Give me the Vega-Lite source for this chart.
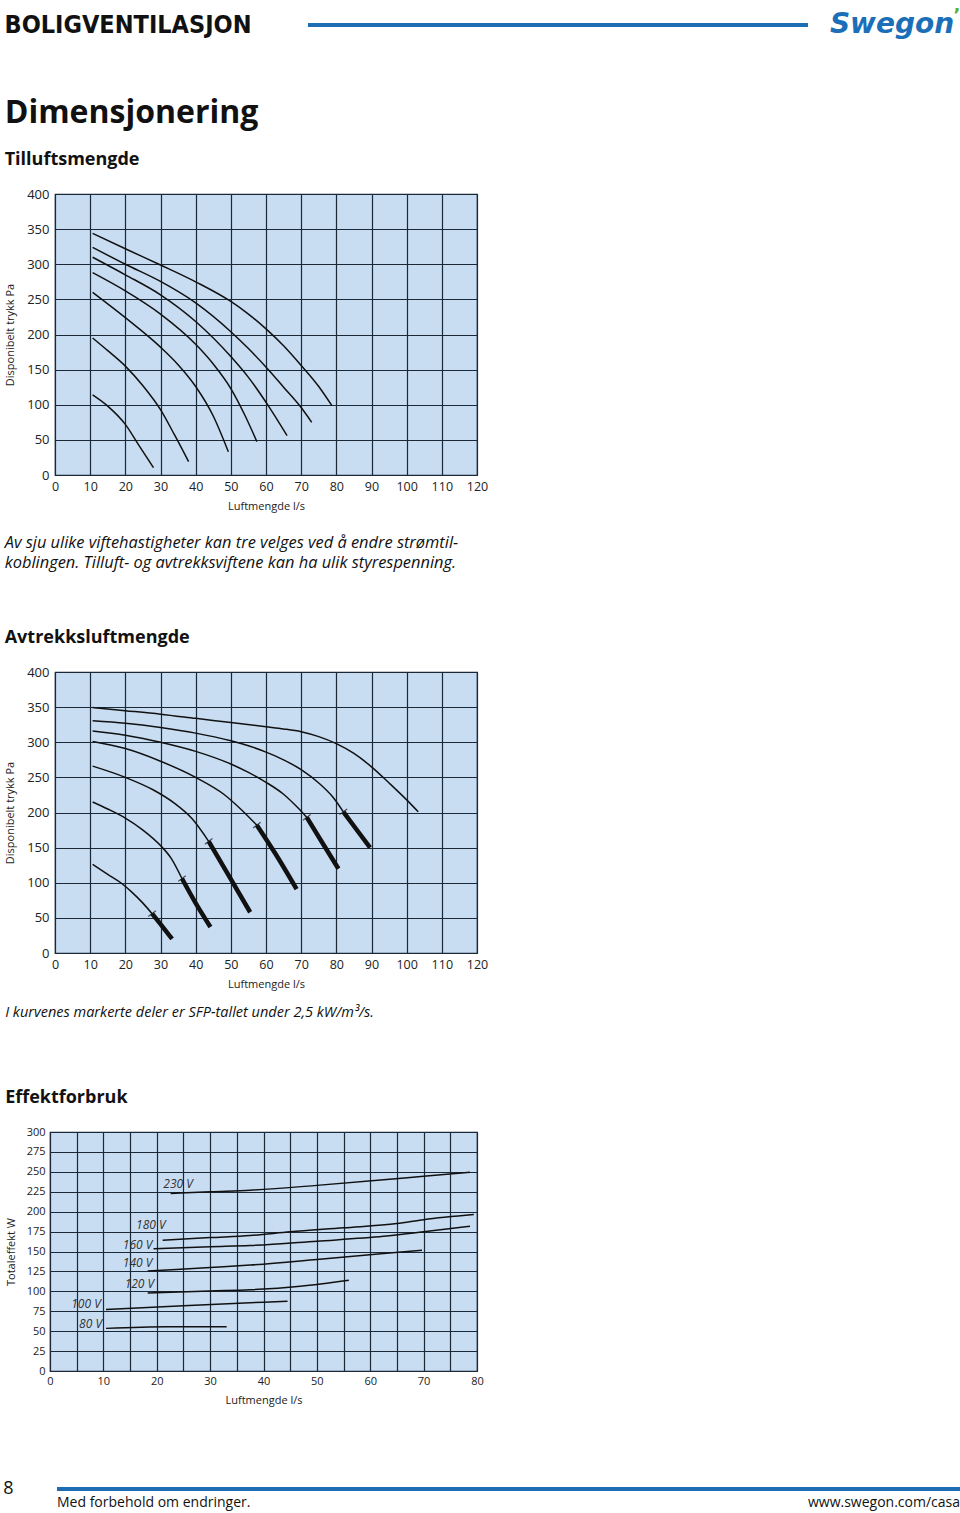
{
  "$schema": "https://vega.github.io/schema/vega-lite/v6.json",
  "background": "white",
  "padding": {"left": 3, "top": 5, "right": 0, "bottom": 0},
  "columns": 1,
  "align": "none",
  "spacing": 0,
  "config": {
    "font": "Open Sans",
    "view": {"stroke": null},
    "title": {"anchor": "start", "font": "Open Sans", "color": "#111", "subtitleFont": "Open Sans", "subtitleColor": "#111"},
    "axis": {"labelFont": "Open Sans", "titleFont": "Open Sans", "labelColor": "#222", "titleColor": "#222", "titleFontWeight": "normal", "domain": false, "ticks": false, "grid": true, "gridColor": "#1b2838", "gridOpacity": 1, "gridWidth": 1.2, "labelFlush": false}
  },
  "datasets": {
    "sup": [
      {"v": "230 V", "x": 10.7, "y": 344}, {"v": "230 V", "x": 20, "y": 322}, {"v": "230 V", "x": 30, "y": 299}, {"v": "230 V", "x": 40, "y": 275}, {"v": "230 V", "x": 50, "y": 247}, {"v": "230 V", "x": 55, "y": 229}, {"v": "230 V", "x": 60, "y": 208}, {"v": "230 V", "x": 65, "y": 184}, {"v": "230 V", "x": 70, "y": 156}, {"v": "230 V", "x": 75, "y": 126}, {"v": "230 V", "x": 78.7, "y": 99},
      {"v": "180 V", "x": 10.7, "y": 324}, {"v": "180 V", "x": 20, "y": 300}, {"v": "180 V", "x": 30, "y": 275.5}, {"v": "180 V", "x": 40, "y": 245}, {"v": "180 V", "x": 50, "y": 204}, {"v": "180 V", "x": 55, "y": 180}, {"v": "180 V", "x": 61, "y": 148}, {"v": "180 V", "x": 65, "y": 125}, {"v": "180 V", "x": 70, "y": 96}, {"v": "180 V", "x": 73, "y": 75},
      {"v": "160 V", "x": 10.7, "y": 310}, {"v": "160 V", "x": 20, "y": 285}, {"v": "160 V", "x": 30, "y": 256.5}, {"v": "160 V", "x": 40, "y": 218.5}, {"v": "160 V", "x": 50, "y": 168.6}, {"v": "160 V", "x": 55, "y": 139}, {"v": "160 V", "x": 61, "y": 96}, {"v": "160 V", "x": 66, "y": 56},
      {"v": "140 V", "x": 10.7, "y": 288}, {"v": "140 V", "x": 20, "y": 262}, {"v": "140 V", "x": 30, "y": 229}, {"v": "140 V", "x": 40, "y": 186}, {"v": "140 V", "x": 45, "y": 158}, {"v": "140 V", "x": 50, "y": 123}, {"v": "140 V", "x": 54, "y": 85}, {"v": "140 V", "x": 57.4, "y": 47.5},
      {"v": "120 V", "x": 10.7, "y": 260}, {"v": "120 V", "x": 20, "y": 224}, {"v": "120 V", "x": 30, "y": 182}, {"v": "120 V", "x": 35, "y": 157}, {"v": "120 V", "x": 40, "y": 126}, {"v": "120 V", "x": 45, "y": 84}, {"v": "120 V", "x": 49.3, "y": 33},
      {"v": "100 V", "x": 10.7, "y": 195}, {"v": "100 V", "x": 15, "y": 177}, {"v": "100 V", "x": 20, "y": 155}, {"v": "100 V", "x": 25, "y": 127}, {"v": "100 V", "x": 30, "y": 93}, {"v": "100 V", "x": 34, "y": 57}, {"v": "100 V", "x": 38, "y": 19},
      {"v": "80 V", "x": 10.7, "y": 114}, {"v": "80 V", "x": 15, "y": 98}, {"v": "80 V", "x": 20, "y": 72}, {"v": "80 V", "x": 24, "y": 41}, {"v": "80 V", "x": 28, "y": 10.4}
    ],
    "sup_lab": [
      {"v": "230 V", "y": 358.6}, {"v": "180 V", "y": 327.7}, {"v": "160 V", "y": 310.2}, {"v": "140 V", "y": 289.7}, {"v": "120 V", "y": 261.2}, {"v": "100 V", "y": 190}, {"v": "80 V", "y": 115}
    ],
    "exh": [
      {"v": "230 V", "seg": "thin", "x": 10.7, "y": 349.5}, {"v": "230 V", "seg": "thin", "x": 20, "y": 345}, {"v": "230 V", "seg": "thin", "x": 30, "y": 340}, {"v": "230 V", "seg": "thin", "x": 40, "y": 334}, {"v": "230 V", "seg": "thin", "x": 50, "y": 328}, {"v": "230 V", "seg": "thin", "x": 60, "y": 322}, {"v": "230 V", "seg": "thin", "x": 65, "y": 319}, {"v": "230 V", "seg": "thin", "x": 70, "y": 315}, {"v": "230 V", "seg": "thin", "x": 75, "y": 308}, {"v": "230 V", "seg": "thin", "x": 80, "y": 298}, {"v": "230 V", "seg": "thin", "x": 85, "y": 284}, {"v": "230 V", "seg": "thin", "x": 90, "y": 265}, {"v": "230 V", "seg": "thin", "x": 95, "y": 242}, {"v": "230 V", "seg": "thin", "x": 100, "y": 218}, {"v": "230 V", "seg": "thin", "x": 103.3, "y": 201},
      {"v": "180 V", "seg": "thin", "x": 10.7, "y": 330.5}, {"v": "180 V", "seg": "thin", "x": 20, "y": 327}, {"v": "180 V", "seg": "thin", "x": 30, "y": 321}, {"v": "180 V", "seg": "thin", "x": 40, "y": 313}, {"v": "180 V", "seg": "thin", "x": 50, "y": 302}, {"v": "180 V", "seg": "thin", "x": 55, "y": 295}, {"v": "180 V", "seg": "thin", "x": 60, "y": 286}, {"v": "180 V", "seg": "thin", "x": 65, "y": 275}, {"v": "180 V", "seg": "thin", "x": 70, "y": 261}, {"v": "180 V", "seg": "thin", "x": 75, "y": 242}, {"v": "180 V", "seg": "thin", "x": 79, "y": 222}, {"v": "180 V", "seg": "thin", "x": 82, "y": 201},
      {"v": "180 V", "seg": "thick", "x": 82, "y": 201}, {"v": "180 V", "seg": "thick", "x": 86, "y": 174}, {"v": "180 V", "seg": "thick", "x": 89.6, "y": 150},
      {"v": "160 V", "seg": "thin", "x": 10.7, "y": 316}, {"v": "160 V", "seg": "thin", "x": 20, "y": 310}, {"v": "160 V", "seg": "thin", "x": 30, "y": 300}, {"v": "160 V", "seg": "thin", "x": 40, "y": 287}, {"v": "160 V", "seg": "thin", "x": 50, "y": 269}, {"v": "160 V", "seg": "thin", "x": 55, "y": 257}, {"v": "160 V", "seg": "thin", "x": 60, "y": 243}, {"v": "160 V", "seg": "thin", "x": 65, "y": 226}, {"v": "160 V", "seg": "thin", "x": 69, "y": 207}, {"v": "160 V", "seg": "thin", "x": 71.6, "y": 193},
      {"v": "160 V", "seg": "thick", "x": 71.6, "y": 193}, {"v": "160 V", "seg": "thick", "x": 76.5, "y": 153}, {"v": "160 V", "seg": "thick", "x": 80.6, "y": 120},
      {"v": "140 V", "seg": "thin", "x": 10.7, "y": 301}, {"v": "140 V", "seg": "thin", "x": 20, "y": 291}, {"v": "140 V", "seg": "thin", "x": 30, "y": 273}, {"v": "140 V", "seg": "thin", "x": 40, "y": 250}, {"v": "140 V", "seg": "thin", "x": 48, "y": 226}, {"v": "140 V", "seg": "thin", "x": 53, "y": 204}, {"v": "140 V", "seg": "thin", "x": 57.4, "y": 182},
      {"v": "140 V", "seg": "thick", "x": 57.4, "y": 182}, {"v": "140 V", "seg": "thick", "x": 62.6, "y": 142}, {"v": "140 V", "seg": "thick", "x": 68.7, "y": 91},
      {"v": "120 V", "seg": "thin", "x": 10.7, "y": 266}, {"v": "120 V", "seg": "thin", "x": 20, "y": 250}, {"v": "120 V", "seg": "thin", "x": 28, "y": 232}, {"v": "120 V", "seg": "thin", "x": 34, "y": 213}, {"v": "120 V", "seg": "thin", "x": 39, "y": 191}, {"v": "120 V", "seg": "thin", "x": 43.7, "y": 159},
      {"v": "120 V", "seg": "thick", "x": 43.7, "y": 159}, {"v": "120 V", "seg": "thick", "x": 50, "y": 105}, {"v": "120 V", "seg": "thick", "x": 55.5, "y": 58},
      {"v": "100 V", "seg": "thin", "x": 10.7, "y": 215}, {"v": "100 V", "seg": "thin", "x": 15, "y": 205}, {"v": "100 V", "seg": "thin", "x": 20, "y": 192}, {"v": "100 V", "seg": "thin", "x": 25, "y": 175}, {"v": "100 V", "seg": "thin", "x": 30, "y": 153}, {"v": "100 V", "seg": "thin", "x": 33, "y": 135}, {"v": "100 V", "seg": "thin", "x": 36.1, "y": 106},
      {"v": "100 V", "seg": "thick", "x": 36.1, "y": 106}, {"v": "100 V", "seg": "thick", "x": 40, "y": 71}, {"v": "100 V", "seg": "thick", "x": 44.2, "y": 37},
      {"v": "80 V", "seg": "thin", "x": 10.7, "y": 126}, {"v": "80 V", "seg": "thin", "x": 15, "y": 112}, {"v": "80 V", "seg": "thin", "x": 18.7, "y": 100}, {"v": "80 V", "seg": "thin", "x": 22, "y": 86}, {"v": "80 V", "seg": "thin", "x": 25, "y": 71}, {"v": "80 V", "seg": "thin", "x": 27.6, "y": 56},
      {"v": "80 V", "seg": "thick", "x": 27.6, "y": 56}, {"v": "80 V", "seg": "thick", "x": 30.5, "y": 38}, {"v": "80 V", "seg": "thick", "x": 33.3, "y": 20}
    ],
    "exh_tick": [
      {"v": "80 V", "x": 27.6, "y": 56}, {"v": "100 V", "x": 36.1, "y": 106}, {"v": "120 V", "x": 43.7, "y": 159}, {"v": "140 V", "x": 57.4, "y": 182}, {"v": "160 V", "x": 71.6, "y": 193}, {"v": "180 V", "x": 82, "y": 201}
    ],
    "exh_lab": [
      {"v": "230 V", "y": 361.4}, {"v": "180 V", "y": 334.3}, {"v": "160 V", "y": 315}, {"v": "140 V", "y": 291.4}, {"v": "120 V", "y": 267.6}, {"v": "100 V", "y": 217.6}, {"v": "80 V", "y": 127.1}
    ],
    "pow": [
      {"v": "230 V", "x": 22.6, "y": 222.7}, {"v": "230 V", "x": 30, "y": 225}, {"v": "230 V", "x": 37.5, "y": 227}, {"v": "230 V", "x": 50, "y": 233}, {"v": "230 V", "x": 62.5, "y": 240}, {"v": "230 V", "x": 70, "y": 244.5}, {"v": "230 V", "x": 78.7, "y": 249.5},
      {"v": "180 V", "x": 21.1, "y": 164.2}, {"v": "180 V", "x": 30, "y": 167.5}, {"v": "180 V", "x": 37.5, "y": 170}, {"v": "180 V", "x": 45, "y": 174.7}, {"v": "180 V", "x": 55, "y": 179.7}, {"v": "180 V", "x": 65, "y": 185}, {"v": "180 V", "x": 70, "y": 190}, {"v": "180 V", "x": 79.4, "y": 196.4},
      {"v": "160 V", "x": 19.4, "y": 153.4}, {"v": "160 V", "x": 30, "y": 156}, {"v": "160 V", "x": 37.5, "y": 157.5}, {"v": "160 V", "x": 50, "y": 163}, {"v": "160 V", "x": 62.5, "y": 169}, {"v": "160 V", "x": 70, "y": 174.7}, {"v": "160 V", "x": 78.7, "y": 181.7},
      {"v": "140 V", "x": 18.3, "y": 125.4}, {"v": "140 V", "x": 30, "y": 130}, {"v": "140 V", "x": 37.5, "y": 133}, {"v": "140 V", "x": 50, "y": 140}, {"v": "140 V", "x": 62.5, "y": 147.5}, {"v": "140 V", "x": 69.7, "y": 151.6},
      {"v": "120 V", "x": 18.3, "y": 97.8}, {"v": "120 V", "x": 30, "y": 100.5}, {"v": "120 V", "x": 37.5, "y": 102}, {"v": "120 V", "x": 46.9, "y": 106.5}, {"v": "120 V", "x": 56, "y": 114},
      {"v": "100 V", "x": 10.5, "y": 77.3}, {"v": "100 V", "x": 25, "y": 82}, {"v": "100 V", "x": 37.5, "y": 85.7}, {"v": "100 V", "x": 44.5, "y": 87.7},
      {"v": "80 V", "x": 10.5, "y": 53.5}, {"v": "80 V", "x": 21.9, "y": 55.6}, {"v": "80 V", "x": 33.1, "y": 55.6}
    ],
    "pow_lab": [
      {"v": "230 V", "x": 24, "y": 234.8}, {"v": "180 V", "x": 18.9, "y": 183}, {"v": "160 V", "x": 16.4, "y": 158}, {"v": "140 V", "x": 16.4, "y": 135.8}, {"v": "120 V", "x": 16.75, "y": 109.5}, {"v": "100 V", "x": 6.75, "y": 83.6}, {"v": "80 V", "x": 7.6, "y": 59.3}
    ]
  },
  "concat": [
    {
      "spacing": 53,
      "hconcat": [
        {"width": 250, "height": 40, "data": {"values": [{}]}, "mark": {"type": "text", "text": "BOLIGVENTILASJON", "font": "DejaVu Sans Condensed", "fontWeight": "bold", "fontSize": 25, "color": "#111", "baseline": "middle", "align": "center"}, "encoding": {}},
        {
          "spacing": 19,
          "hconcat": [
            {"width": 500, "height": 40, "data": {"values": [{}]}, "mark": {"type": "rule", "color": "#1d6db5", "strokeWidth": 4}, "encoding": {"y": {"datum": 0, "scale": {"domain": [-1, 1]}, "axis": null}}},
            {"width": 134, "height": 40, "data": {"values": [{}]}, "layer": [
              {"mark": {"type": "text", "text": "Swegon", "font": "DejaVu Sans", "fontWeight": "bold", "fontStyle": "italic", "fontSize": 28, "color": "#1b6fb8", "baseline": "middle", "align": "center", "dx": -5}, "encoding": {}},
              {"mark": {"type": "text", "text": "’", "font": "DejaVu Sans", "fontWeight": "bold", "fontSize": 18, "color": "#5aae32", "baseline": "middle", "align": "center", "dx": 60, "dy": -9}, "encoding": {}}
            ]}
          ]
        }
      ]
    },
    {"width": 1, "height": 51, "data": {"values": []}, "mark": "point"},
    {"spacing": 0, "hconcat": [{"width": 0.1, "height": 1, "data": {"values": []}, "mark": "point"}, {
      "width": 422, "height": 281,
      "view": {"fill": "#c8dcf2", "stroke": "#1b2838", "strokeWidth": 1.2},
      "title": {"text": "Dimensjonering", "subtitle": "Tilluftsmengde", "fontSize": 32, "fontWeight": "bold", "subtitleFontSize": 18, "subtitleFontWeight": "bold", "subtitlePadding": 21, "offset": 18, "anchor": "start"},
      "encoding": {
        "x": {"field": "x", "type": "quantitative", "scale": {"domain": [0, 120], "nice": false}, "axis": {"values": [0, 10, 20, 30, 40, 50, 60, 70, 80, 90, 100, 110, 120], "title": "Luftmengde l/s", "labelFontSize": 12.5, "titleFontSize": 11, "labelPadding": 5, "titlePadding": 8}},
        "y": {"field": "y", "type": "quantitative", "scale": {"domain": [0, 400], "nice": false}, "axis": {"values": [0, 50, 100, 150, 200, 250, 300, 350, 400], "title": "Disponibelt trykk Pa", "labelFontSize": 13, "titleFontSize": 11, "labelPadding": 6, "titlePadding": 11}}
      },
      "layer": [
        {"data": {"name": "sup"}, "mark": {"type": "line", "interpolate": "monotone", "color": "#111", "strokeWidth": 1.5}, "encoding": {"detail": {"field": "v"}, "order": {"field": "x", "type": "quantitative"}}},
        {"data": {"name": "sup_lab"}, "mark": {"type": "text", "align": "right", "baseline": "middle", "fontStyle": "italic", "fontSize": 11, "color": "#333"}, "encoding": {"x": {"datum": 9.6}, "text": {"field": "v"}}}
      ]
    }]},
    {"width": 1, "height": 21, "data": {"values": []}, "mark": "point"},
    {"spacing": 0, "hconcat": [{"width": 0.1, "height": 1, "data": {"values": []}, "mark": "point"}, {
      "width": 422, "height": 281,
      "view": {"fill": "#c8dcf2", "stroke": "#1b2838", "strokeWidth": 1.2},
      "title": {"text": ["Av sju ulike viftehastigheter kan tre velges ved å endre strømtil-", "koblingen. Tilluft- og avtrekksviftene kan ha ulik styrespenning."], "subtitle": "Avtrekksluftmengde", "fontSize": 16.4, "lineHeight": 20, "fontStyle": "italic", "fontWeight": "normal", "subtitleFontSize": 18, "subtitleFontWeight": "bold", "subtitleFontStyle": "normal", "subtitlePadding": 58, "offset": 19, "anchor": "start"},
      "encoding": {
        "x": {"field": "x", "type": "quantitative", "scale": {"domain": [0, 120], "nice": false}, "axis": {"values": [0, 10, 20, 30, 40, 50, 60, 70, 80, 90, 100, 110, 120], "title": "Luftmengde l/s", "labelFontSize": 12.5, "titleFontSize": 11, "labelPadding": 5, "titlePadding": 8}},
        "y": {"field": "y", "type": "quantitative", "scale": {"domain": [0, 400], "nice": false}, "axis": {"values": [0, 50, 100, 150, 200, 250, 300, 350, 400], "title": "Disponibelt trykk Pa", "labelFontSize": 13, "titleFontSize": 11, "labelPadding": 6, "titlePadding": 11}}
      },
      "layer": [
        {"data": {"name": "exh"}, "transform": [{"filter": "datum.seg == 'thin'"}], "mark": {"type": "line", "interpolate": "monotone", "color": "#111", "strokeWidth": 1.5}, "encoding": {"detail": {"field": "v"}, "order": {"field": "x", "type": "quantitative"}}},
        {"data": {"name": "exh"}, "transform": [{"filter": "datum.seg == 'thick'"}], "mark": {"type": "line", "interpolate": "monotone", "color": "#111", "strokeWidth": 4.5, "strokeCap": "butt"}, "encoding": {"detail": {"field": "v"}, "order": {"field": "x", "type": "quantitative"}}},
        {"data": {"name": "exh_tick"}, "mark": {"type": "point", "shape": "M -0.8 0.6 L 0.8 -0.6", "size": 90, "filled": false, "stroke": "#111", "strokeWidth": 1.2}},
        {"data": {"name": "exh_lab"}, "mark": {"type": "text", "align": "right", "baseline": "middle", "fontStyle": "italic", "fontSize": 11, "color": "#333"}, "encoding": {"x": {"datum": 9.6}, "text": {"field": "v"}}}
      ]
    }]},
    {"width": 1, "height": 12, "data": {"values": []}, "mark": "point"},
    {"spacing": 0, "hconcat": [{"width": 0.1, "height": 1, "data": {"values": []}, "mark": "point"}, {
      "width": 427, "height": 239,
      "view": {"fill": "#c8dcf2", "stroke": "#1b2838", "strokeWidth": 1.2},
      "title": {"text": "I kurvenes markerte deler er SFP-tallet under 2,5 kW/m³/s.", "subtitle": "Effektforbruk", "fontSize": 14.5, "fontStyle": "italic", "fontWeight": "normal", "subtitleFontSize": 18, "subtitleFontWeight": "bold", "subtitleFontStyle": "normal", "subtitlePadding": 69, "offset": 18, "anchor": "start"},
      "encoding": {
        "x": {"field": "x", "type": "quantitative", "scale": {"domain": [0, 80], "nice": false}, "axis": {"values": [0, 5, 10, 15, 20, 25, 30, 35, 40, 45, 50, 55, 60, 65, 70, 75, 80], "labelExpr": "datum.value % 10 == 0 ? datum.label : ''", "title": "Luftmengde l/s", "labelFontSize": 11, "titleFontSize": 11, "labelPadding": 4, "titlePadding": 8}},
        "y": {"field": "y", "type": "quantitative", "scale": {"domain": [0, 300], "nice": false}, "axis": {"values": [0, 25, 50, 75, 100, 125, 150, 175, 200, 225, 250, 275, 300], "title": "Totaleffekt W", "labelFontSize": 11, "titleFontSize": 11, "labelPadding": 5, "titlePadding": 10}}
      },
      "layer": [
        {"data": {"name": "pow"}, "mark": {"type": "line", "interpolate": "monotone", "color": "#111", "strokeWidth": 1.5}, "encoding": {"detail": {"field": "v"}, "order": {"field": "x", "type": "quantitative"}}},
        {"data": {"name": "pow_lab"}, "mark": {"type": "text", "align": "center", "baseline": "middle", "fontStyle": "italic", "fontSize": 12, "color": "#333"}, "encoding": {"text": {"field": "v"}}}
      ]
    }]},
    {"width": 1, "height": 74, "data": {"values": []}, "mark": "point"},
    {
      "spacing": 41,
      "hconcat": [
        {"width": 11, "height": 14, "data": {"values": [{}]}, "mark": {"type": "text", "text": "8", "fontSize": 18, "color": "#111", "baseline": "middle", "align": "center"}, "encoding": {}},
        {
          "spacing": 0,
          "vconcat": [
            {"width": 904, "height": 14, "data": {"values": [{}]}, "mark": {"type": "rule", "color": "#1d6db5", "strokeWidth": 4}, "encoding": {"y": {"datum": 0, "scale": {"domain": [-1, 1]}, "axis": null}}},
            {
              "spacing": 0,
              "hconcat": [
                {"width": 451, "height": 0, "title": {"text": "Med forbehold om endringer.", "fontSize": 14, "fontWeight": "normal", "anchor": "start", "offset": -5}, "data": {"values": []}, "mark": "point"},
                {"width": 452, "height": 0, "title": {"text": "www.swegon.com/casa", "fontSize": 14, "fontWeight": "normal", "anchor": "end", "offset": -5}, "data": {"values": []}, "mark": "point"}
              ]
            }
          ]
        }
      ]
    }
  ]
}
